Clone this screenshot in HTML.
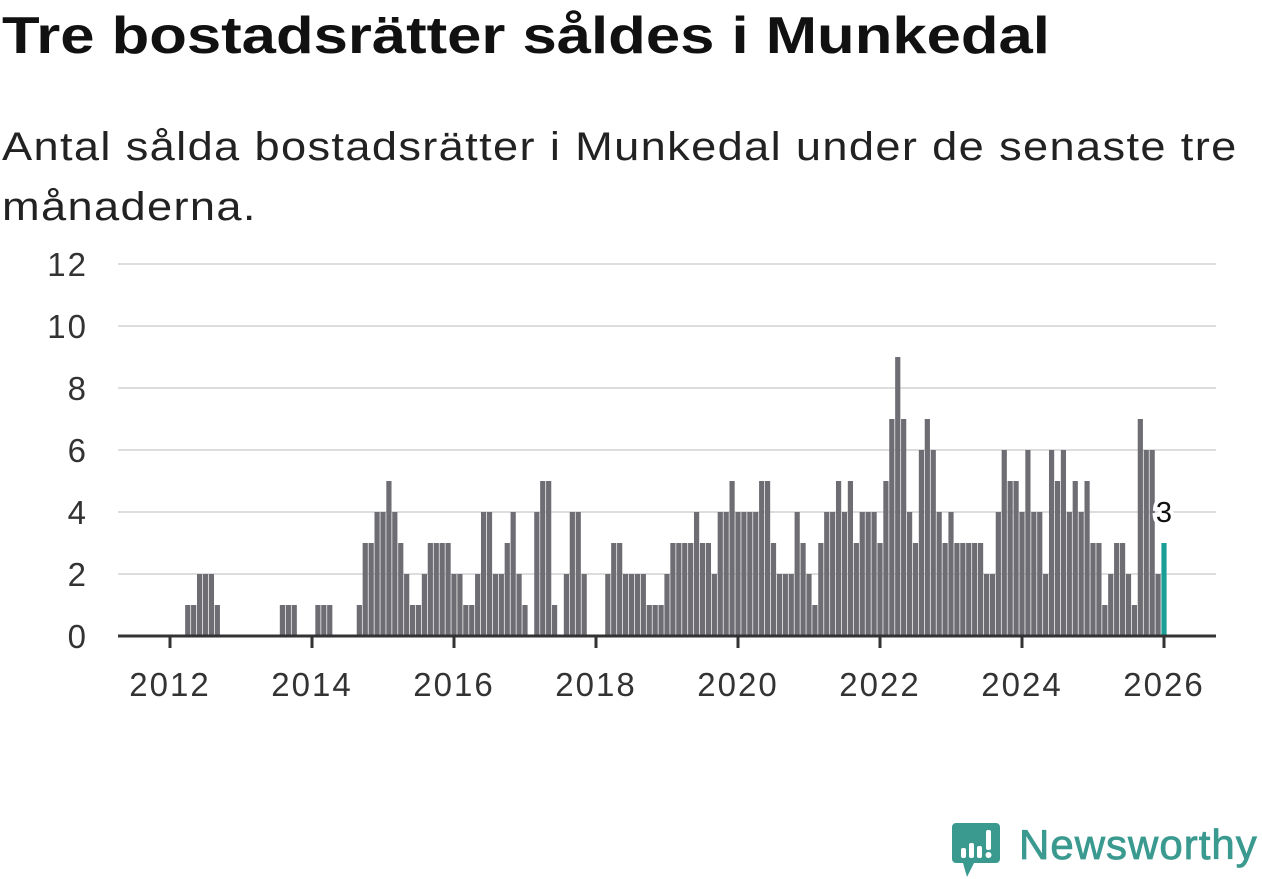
<!DOCTYPE html>
<html><head><meta charset="utf-8">
<style>
body{margin:0;background:#fff;width:1262px;height:879px;overflow:hidden;font-family:"Liberation Sans",sans-serif;}
#title{position:absolute;left:2px;top:6px;font-size:52px;font-weight:bold;color:#111;margin:0;transform-origin:0 0;transform:scaleX(1.185);white-space:nowrap}
#sub{position:absolute;left:2px;top:117px;font-size:40px;color:#222;line-height:60px;width:1300px;letter-spacing:1.2px;transform-origin:0 0;transform:scaleX(1.13);white-space:nowrap}
svg{position:absolute;left:0;top:0}
</style></head><body>
<h1 id="title">Tre bostadsrätter såldes i Munkedal</h1>
<div id="sub">Antal sålda bostadsrätter i Munkedal under de senaste tre<br>månaderna.</div>
<svg id="chart" width="1262" height="879"></svg>
<svg width="1262" height="879">
<path d="M956 823 h40 a4 4 0 0 1 4 4 v32 a4 4 0 0 1 -4 4 h-22 l-7 14 l-4 -14 h-7 a4 4 0 0 1 -4 -4 v-32 a4 4 0 0 1 4 -4z" fill="#3a9a90"/>
<rect x="961" y="848" width="5" height="10" rx="2" fill="#fff"/><rect x="969" y="843" width="5" height="15" rx="2" fill="#fff"/><rect x="977" y="846" width="5" height="12" rx="2" fill="#fff"/><rect x="986" y="830" width="5" height="20" rx="2" fill="#fff"/><circle cx="988.5" cy="855" r="3" fill="#fff"/>
<text x="1019" y="859" font-size="42" letter-spacing="1" stroke="#3a9a90" stroke-width="0.8" fill="#3a9a90" font-family="Liberation Sans, sans-serif">Newsworthy</text>
</svg>
<script>
const startYear = 2012;
const values = [0,0,0,1,1,2,2,2,1,0,0,0, 0,0,0,0,0,0,0,1,1,1,0,0, 0,1,1,1,0,0,0,0,1,3,3,4,
4,5,4,3,2,1,1,2,3,3,3,3, 2,2,1,1,2,4,4,2,2,3,4,2, 1,0,4,5,5,1,0,2,4,4,2,0,
0,0,2,3,3,2,2,2,2,1,1,1, 2,3,3,3,3,4,3,3,2,4,4,5, 4,4,4,4,5,5,3,2,2,2,4,3,
2,1,3,4,4,5,4,5,3,4,4,4, 3,5,7,9,7,4,3,6,7,6,4,3, 4,3,3,3,3,3,2,2,4,6,5,5,
4,6,4,4,2,6,5,6,4,5,4,5, 3,3,1,2,3,3,2,1,7,6,6,2, 3];
const yTicks = [0,2,4,6,8,10,12];
const xTicks = [2012,2014,2016,2018,2020,2022,2024,2026];
const lastLabel = "3";

const svg = document.getElementById('chart');
const NS = 'http://www.w3.org/2000/svg';
const x0 = 170, perYear = 71, plotL = 118, plotR = 1216, y0 = 636, perUnit = 31;
const xm = i => x0 + i * perYear / 12;
const xy = yr => x0 + (yr - startYear) * perYear;
const yv = v => y0 - v * perUnit;
function mk(tag, attrs){const e=document.createElementNS(NS,tag);for(const k in attrs)e.setAttribute(k,attrs[k]);svg.appendChild(e);return e;}
yTicks.forEach(t=>{
  if(t>0){const g=mk('line',{x1:plotL,x2:plotR,y1:yv(t),y2:yv(t),stroke:'#ddd','stroke-width':2});
  
  }
  const l=mk('text',{x:88,y:yv(t)+12,'text-anchor':'end','font-size':33,'letter-spacing':2,fill:'#333'});
  l.textContent=t;
  
  
});
values.forEach((v,i)=>{
  if(v<=0)return;
  const last=i===values.length-1;
  const r=mk('rect',{x:xm(i)-2.6,y:yv(v),width:5.2,height:v*perUnit,fill:last?'#1a9e96':'#6e6d73'});
  
  
});
const ax=mk('line',{x1:plotL,x2:plotR,y1:y0,y2:y0,stroke:'#333','stroke-width':3});


xTicks.forEach(yr=>{
  const tk=mk('line',{x1:xy(yr),x2:xy(yr),y1:y0,y2:y0+12,stroke:'#333','stroke-width':3});
  
  
  const l=mk('text',{x:xy(yr),y:696,'text-anchor':'middle','font-size':33,'letter-spacing':2,fill:'#333'});
  l.textContent=yr;
  
  
});
const li=values.length-1;
const lab=mk('text',{x:xm(li),y:yv(values[li])-21,'text-anchor':'middle','font-size':29,fill:'#111',stroke:'#fff','stroke-width':8,'paint-order':'stroke'});
lab.textContent=lastLabel;


</script>
</body></html>
